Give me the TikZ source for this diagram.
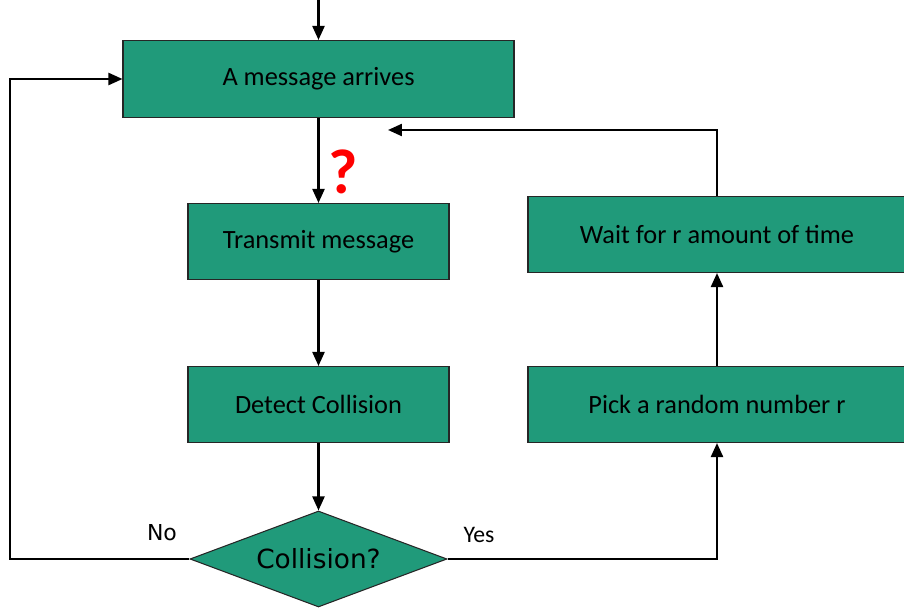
\documentclass[tikz,border=0pt]{standalone}
\usepackage{fontspec}
\setmainfont{Carlito}
\newfontfamily\dejavu{DejaVu Sans}
\usetikzlibrary{arrows.meta,shapes.geometric}
\definecolor{boxgreen}{RGB}{32,154,122}

\begin{document}
\begin{tikzpicture}[x=0.02cm, y=-0.02cm]

\tikzset{
    stepbox/.style={
        draw=black!85,
        line width=0.6pt,
        fill=boxgreen,
        inner sep=0pt,
        font=\fontsize{15}{18}\selectfont
    },
    flow/.style={
        line width=1.3pt,
        -{Triangle[length=0.28cm,width=0.24cm]}
    }
}

\useasboundingbox (0,0) rectangle (904,608);

% Boxes

\node[stepbox, minimum width=391*0.02cm, minimum height=77*0.02cm]
    (arrive) at (318.5,79) {A message arrives};

\node[stepbox, minimum width=261*0.02cm, minimum height=76*0.02cm]
    (transmit) at (318.5,241.5) {Transmit message};

\node[stepbox, minimum width=261*0.02cm, minimum height=76*0.02cm]
    (detect) at (318.5,404.5) {Detect Collision};

\node[
    stepbox,
    diamond,
    aspect=2.68,
    minimum width=257*0.02cm,
    minimum height=96*0.02cm,
    font=\dejavu\fontsize{15}{18}\selectfont
] (collide) at (318.5,559) {Collision?};

\node[stepbox, minimum width=378*0.02cm, minimum height=76*0.02cm]
    (wait) at (717,234.5) {Wait for r amount of time};

\node[stepbox, minimum width=378*0.02cm, minimum height=76*0.02cm]
    (pick) at (717,404.5) {Pick a random number r};


% Free ends

\coordinate (start) at (318.5,0);
\coordinate (leftturn) at (10,558);
\coordinate (back) at (388,130);


% Connectors

\draw[flow] (start) -- (arrive.north);
\draw[flow] (arrive.south) -- (transmit.north);
\draw[flow] (transmit.south) -- (detect.north);
\draw[flow] (detect.south) -- (collide.north);
\draw[flow] (collide.west) -- (leftturn |- collide.west) |- (arrive.west);
\draw[flow] (collide.east) -| (pick.south);
\draw[flow] (pick.north) -- (wait.south);
\draw[flow] (wait.north) |- (back);


% Labels

\node[font=\dejavu\fontsize{12.5}{15}\selectfont] (no) at (162,533) {No};
\node[font=\fontsize{13.5}{16}\selectfont] (yes) at (479,535) {Yes};
\node[font=\bfseries\fontsize{36}{40}\selectfont, text=red] (ask) at (343,172) {?};

\end{tikzpicture}
\end{document}
